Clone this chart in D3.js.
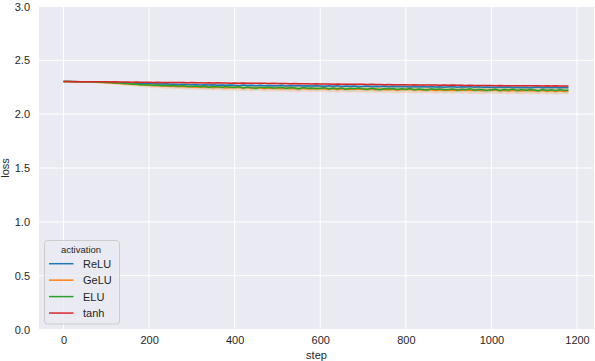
<!DOCTYPE html>
<html><head><meta charset="utf-8">
<script src="https://cdn.jsdelivr.net/npm/d3@7"></script>
<style>body{margin:0;background:#fff}svg{display:block}text{font-family:"Liberation Sans",Arial,sans-serif;fill:#262626}</style>
</head><body><svg id="c" width="595" height="361"></svg>
<script>
const seriesNames = ["ReLU","GeLU","ELU","tanh"];
const colors = ["#1f77b4","#ff7f0e","#2ca02c","#d62728"];
const xTicks = [0,200,400,600,800,1000,1200];
const yTicks = [0.0,0.5,1.0,1.5,2.0,2.5,3.0];
const steps = d3.range(0,1190,10);
const relu = [
2.303,2.303,2.303,2.302,2.302,2.302,2.301,2.300,2.299,2.298,
2.297,2.296,2.295,2.293,2.292,2.290,2.289,2.288,2.286,2.285,
2.284,2.285,2.281,2.280,2.282,2.278,2.279,2.276,2.277,2.275,
2.274,2.276,2.271,2.273,2.270,2.274,2.269,2.271,2.268,2.272,
2.268,2.265,2.270,2.266,2.268,2.263,2.269,2.265,2.267,2.264,
2.265,2.268,2.262,2.266,2.263,2.267,2.261,2.264,2.262,2.265,
2.262,2.259,2.264,2.260,2.263,2.258,2.262,2.259,2.261,2.257,
2.259,2.262,2.256,2.260,2.257,2.261,2.255,2.259,2.256,2.258,
2.256,2.253,2.258,2.254,2.257,2.252,2.256,2.253,2.255,2.251,
2.254,2.257,2.251,2.255,2.252,2.256,2.250,2.254,2.251,2.253,
2.251,2.248,2.253,2.249,2.252,2.247,2.251,2.248,2.250,2.246,
2.249,2.252,2.246,2.250,2.247,2.251,2.245,2.249,2.247];
const gelu = [
2.303,2.303,2.302,2.302,2.301,2.300,2.299,2.298,2.296,2.294,
2.292,2.290,2.288,2.285,2.283,2.280,2.278,2.275,2.273,2.270,
2.268,2.266,2.263,2.265,2.259,2.262,2.256,2.260,2.254,2.257,
2.253,2.250,2.256,2.248,2.253,2.246,2.251,2.249,2.244,2.250,
2.245,2.249,2.242,2.247,2.240,2.245,2.243,2.238,2.244,2.240,
2.241,2.237,2.243,2.236,2.241,2.234,2.240,2.237,2.233,2.239,
2.236,2.239,2.232,2.237,2.230,2.236,2.233,2.229,2.235,2.231,
2.232,2.228,2.234,2.227,2.233,2.226,2.231,2.228,2.224,2.230,
2.228,2.231,2.224,2.229,2.222,2.228,2.225,2.221,2.227,2.223,
2.225,2.221,2.227,2.220,2.226,2.219,2.224,2.221,2.217,2.223,
2.222,2.225,2.218,2.223,2.216,2.222,2.219,2.215,2.221,2.217,
2.219,2.215,2.221,2.214,2.220,2.213,2.218,2.216,2.215];
const elu = [
2.303,2.303,2.303,2.302,2.302,2.301,2.300,2.299,2.297,2.296,
2.294,2.293,2.290,2.289,2.285,2.284,2.279,2.280,2.274,2.276,
2.272,2.268,2.271,2.264,2.269,2.262,2.266,2.259,2.265,2.257,
2.258,2.262,2.253,2.259,2.251,2.257,2.254,2.249,2.256,2.250,
2.250,2.255,2.244,2.252,2.246,2.241,2.251,2.245,2.249,2.242,
2.245,2.250,2.239,2.247,2.243,2.236,2.248,2.241,2.244,2.238,
2.240,2.246,2.235,2.243,2.237,2.242,2.232,2.240,2.236,2.244,
2.236,2.231,2.240,2.234,2.228,2.238,2.233,2.239,2.229,2.235,
2.232,2.238,2.227,2.234,2.230,2.224,2.236,2.229,2.233,2.226,
2.229,2.234,2.223,2.231,2.227,2.235,2.222,2.230,2.226,2.221,
2.227,2.232,2.220,2.229,2.224,2.233,2.219,2.228,2.223,2.230,
2.224,2.218,2.229,2.221,2.226,2.217,2.228,2.220,2.222];
const tanh = [
2.303,2.303,2.302,2.303,2.302,2.301,2.302,2.300,2.301,2.300,
2.300,2.299,2.300,2.298,2.299,2.298,2.297,2.298,2.296,2.297,
2.296,2.295,2.296,2.294,2.295,2.295,2.293,2.294,2.293,2.292,
2.293,2.291,2.292,2.290,2.291,2.290,2.291,2.289,2.290,2.288,
2.289,2.288,2.289,2.287,2.288,2.286,2.287,2.286,2.285,2.286,
2.285,2.284,2.285,2.283,2.284,2.282,2.283,2.282,2.281,2.282,
2.281,2.280,2.281,2.279,2.280,2.278,2.279,2.278,2.277,2.278,
2.277,2.276,2.277,2.275,2.276,2.274,2.275,2.274,2.273,2.274,
2.273,2.272,2.273,2.271,2.272,2.271,2.270,2.271,2.269,2.270,
2.269,2.270,2.268,2.269,2.267,2.268,2.267,2.266,2.267,2.266,
2.267,2.265,2.266,2.265,2.264,2.265,2.264,2.265,2.263,2.264,
2.263,2.264,2.262,2.263,2.262,2.263,2.261,2.262,2.261];
// band half-widths at coarse steps
const bandSteps = [0,100,200,300,400,500,600,700,800,900,1000,1100,1180];
const reluSpread = [0.001,0.004,0.008,0.010,0.010,0.011,0.011,0.011,0.012,0.012,0.012,0.012,0.012];
const geluSpread = [0.001,0.012,0.022,0.026,0.028,0.029,0.030,0.030,0.031,0.031,0.032,0.032,0.032];
const eluSpread  = [0.001,0.007,0.014,0.016,0.017,0.018,0.018,0.019,0.019,0.019,0.020,0.020,0.020];
const tanhSpread = [0.001,0.002,0.003,0.004,0.004,0.004,0.005,0.005,0.005,0.005,0.005,0.005,0.005];

const values = [relu,gelu,elu,tanh];
const spreads = [reluSpread,geluSpread,eluSpread,tanhSpread];

const svg = d3.select("#c");
const L=39,R=594,T=6.5,B=329.5;
const x = d3.scaleLinear().domain([0,1200]).range([63.5,577]);
const y = d3.scaleLinear().domain([0,3]).range([B,T]);

svg.append("rect").attr("x",L).attr("y",T).attr("width",R-L).attr("height",B-T).attr("fill","#EAEAF2");
const g = svg.append("g");
xTicks.forEach(t=>g.append("line").attr("x1",x(t)).attr("x2",x(t)).attr("y1",T).attr("y2",B).attr("stroke","#fff").attr("stroke-width",1));
yTicks.forEach(t=>g.append("line").attr("x1",L).attr("x2",R).attr("y1",y(t)).attr("y2",y(t)).attr("stroke","#fff").attr("stroke-width",1));

const xAxis = d3.axisBottom(x).tickValues(xTicks).tickSize(0).tickPadding(7).tickFormat(d3.format("d"));
const xa = svg.append("g").attr("transform",`translate(0,${B})`).call(xAxis);
const yAxis = d3.axisLeft(y).tickValues(yTicks).tickSize(0).tickPadding(9).tickFormat(d3.format(".1f"));
const ya = svg.append("g").attr("transform",`translate(${L},0)`).call(yAxis);
[xa,ya].forEach(a=>{a.select(".domain").remove();a.selectAll("text").attr("font-size",11).attr("fill","#262626").attr("font-family","Liberation Sans, Arial, sans-serif");});

svg.append("text").attr("x",(L+R)/2).attr("y",359).attr("text-anchor","middle").attr("font-size",11).text("step");
svg.append("text").attr("transform",`translate(9,${(T+B)/2}) rotate(-90)`).attr("text-anchor","middle").attr("font-size",11).text("loss");

const spreadAt = (arr,s)=>{const i=d3.bisectRight(bandSteps,s)-1;const j=Math.min(i+1,bandSteps.length-1);if(i===j)return arr[i];const f=(s-bandSteps[i])/(bandSteps[j]-bandSteps[i]);return arr[i]+(arr[j]-arr[i])*f;};

const plot = svg.append("g");
values.forEach((v,k)=>{
  const pts = steps.map((s,i)=>({s,v:v[i],sp:spreadAt(spreads[k],s)}));
  plot.append("path").datum(pts).attr("fill",colors[k]).attr("fill-opacity",0.2)
    .attr("d",d3.area().x(d=>x(d.s)).y0(d=>y(d.v-d.sp)).y1(d=>y(d.v+d.sp)));
});
values.forEach((v,k)=>{
  const pts = steps.map((s,i)=>({s,v:v[i]}));
  plot.append("path").datum(pts).attr("fill","none").attr("stroke",colors[k]).attr("stroke-width",1.5)
    .attr("d",d3.line().x(d=>x(d.s)).y(d=>y(d.v)));
});

// legend
const lg = svg.append("g");
lg.append("rect").attr("x",44.5).attr("y",240.5).attr("width",75).attr("height",83.5).attr("rx",3)
  .attr("fill","#EAEAF2").attr("fill-opacity",0.8).attr("stroke","#cccccc").attr("stroke-width",1);
lg.append("text").attr("x",81).attr("y",252.5).attr("text-anchor","middle").attr("font-size",9.5).text("activation");
seriesNames.forEach((n,k)=>{
  const yy = 263.7 + k*16.45;
  lg.append("line").attr("x1",49).attr("x2",73.5).attr("y1",yy).attr("y2",yy).attr("stroke",colors[k]).attr("stroke-width",1.5);
  lg.append("text").attr("x",83).attr("y",yy+4).attr("font-size",11).text(n);
});
</script></body></html>
